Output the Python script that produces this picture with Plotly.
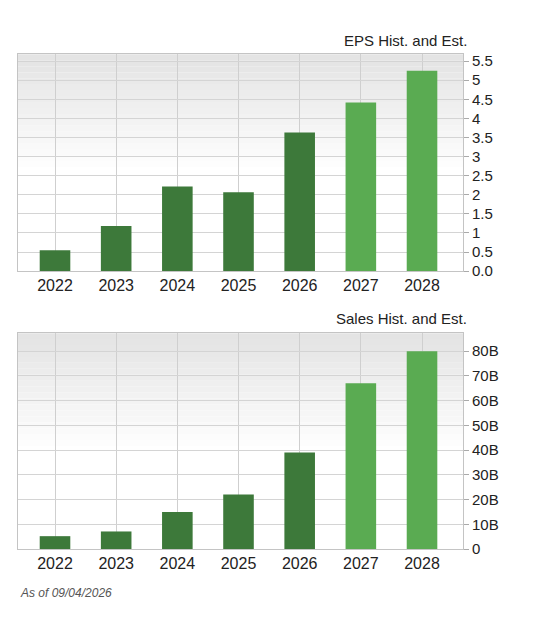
import plotly.graph_objects as go
from plotly.subplots import make_subplots

years = ["2022", "2023", "2024", "2025", "2026", "2027", "2028"]
eps = [0.55, 1.18, 2.22, 2.07, 3.63, 4.42, 5.25]
sales = [5.2, 7.1, 15.0, 22.0, 39.0, 67.0, 80.0]
is_estimate = [False, False, False, False, False, True, True]

DARK = "#3d793a"
LIGHT = "#5aab52"
colors = [LIGHT if e else DARK for e in is_estimate]

W, H = 537, 606
OFF = 8  # page body margin
fig = make_subplots(rows=2, cols=1)
fig.add_trace(go.Bar(x=years, y=eps, marker_color=colors, width=0.5,
                     marker_line_width=0), row=1, col=1)
fig.add_trace(go.Bar(x=years, y=sales, marker_color=colors, width=0.5,
                     marker_line_width=0), row=2, col=1)


def py(t):
    # screen pixel -> paper fraction (measured from the rendered page)
    return 1 - ((t - 9.7) / 0.984) / H


def ypx(a, b):
    return [py(b), py(a)]


xd = [(18 - OFF) / W, (463 - OFF) / W]
axis_font = dict(family="Liberation Sans, Arial", size=15, color="#222")
xfont = dict(family="Liberation Sans, Arial", size=16, color="#222")
common_x = dict(domain=xd, range=[-0.605, 6.67], showgrid=True, gridcolor="#cfcfcf",
                ticks="", tickfont=xfont, showline=True, linecolor="#c4c4c4",
                mirror=True, ticklabelstandoff=0)
common_y = dict(side="right", gridcolor="#d4d4d4", tickfont=axis_font, ticks="outside",
                ticklen=5, tickcolor="#aaa", zeroline=False, showline=True,
                linecolor="#c4c4c4", mirror=True)

# gradient background in upper half of each plot
shapes = []
n = 20
for yref in ["y domain", "y2 domain"]:
    xref = "x domain" if yref == "y domain" else "x2 domain"
    for i in range(n):
        g = int(0xe4 + (0xff - 0xe4) * i / (n - 1))
        shapes.append(dict(type="rect", xref=xref, yref=yref, x0=0, x1=1,
                           y0=1 - (i + 1) * 0.55 / n, y1=1 - i * 0.55 / n,
                           fillcolor=f"rgb({g},{g},{g})", line_width=0, layer="below"))

fig.update_layout(
    width=W, height=H, margin=dict(l=0, r=0, t=0, b=0),
    paper_bgcolor="white", plot_bgcolor="white", showlegend=False,
    bargap=0.5, shapes=shapes,
    xaxis=dict(**common_x, anchor="y"),
    xaxis2=dict(**common_x, anchor="y2"),
    yaxis=dict(**common_y, domain=ypx(54, 271), range=[0, 5.68],
               tickvals=[0, 0.5, 1, 1.5, 2, 2.5, 3, 3.5, 4, 4.5, 5, 5.5],
               ticktext=["0.0", "0.5", "1", "1.5", "2", "2.5", "3", "3.5", "4", "4.5", "5", "5.5"]),
    yaxis2=dict(**common_y, domain=ypx(333, 549), range=[0, 87.3],
                tickvals=[0, 10, 20, 30, 40, 50, 60, 70, 80],
                ticktext=["0", "10B", "20B", "30B", "40B", "50B", "60B", "70B", "80B"]),
    annotations=[
        dict(text="EPS Hist. and Est.", x=(469 - OFF) / W, y=py(40),
             xref="paper", yref="paper", xanchor="right", yanchor="middle", showarrow=False,
             font=dict(family="Liberation Sans, Arial", size=15, color="#222")),
        dict(text="Sales Hist. and Est.", x=(469 - OFF) / W, y=py(318),
             xref="paper", yref="paper", xanchor="right", yanchor="middle", showarrow=False,
             font=dict(family="Liberation Sans, Arial", size=15, color="#222")),
        dict(text="<i>As of 09/04/2026</i>", x=(18 - OFF) / W, y=py(593),
             xref="paper", yref="paper", xanchor="left", yanchor="middle", showarrow=False,
             font=dict(family="Liberation Sans, Arial", size=12, color="#555")),
    ],
)
fig.write_html("out.html")
